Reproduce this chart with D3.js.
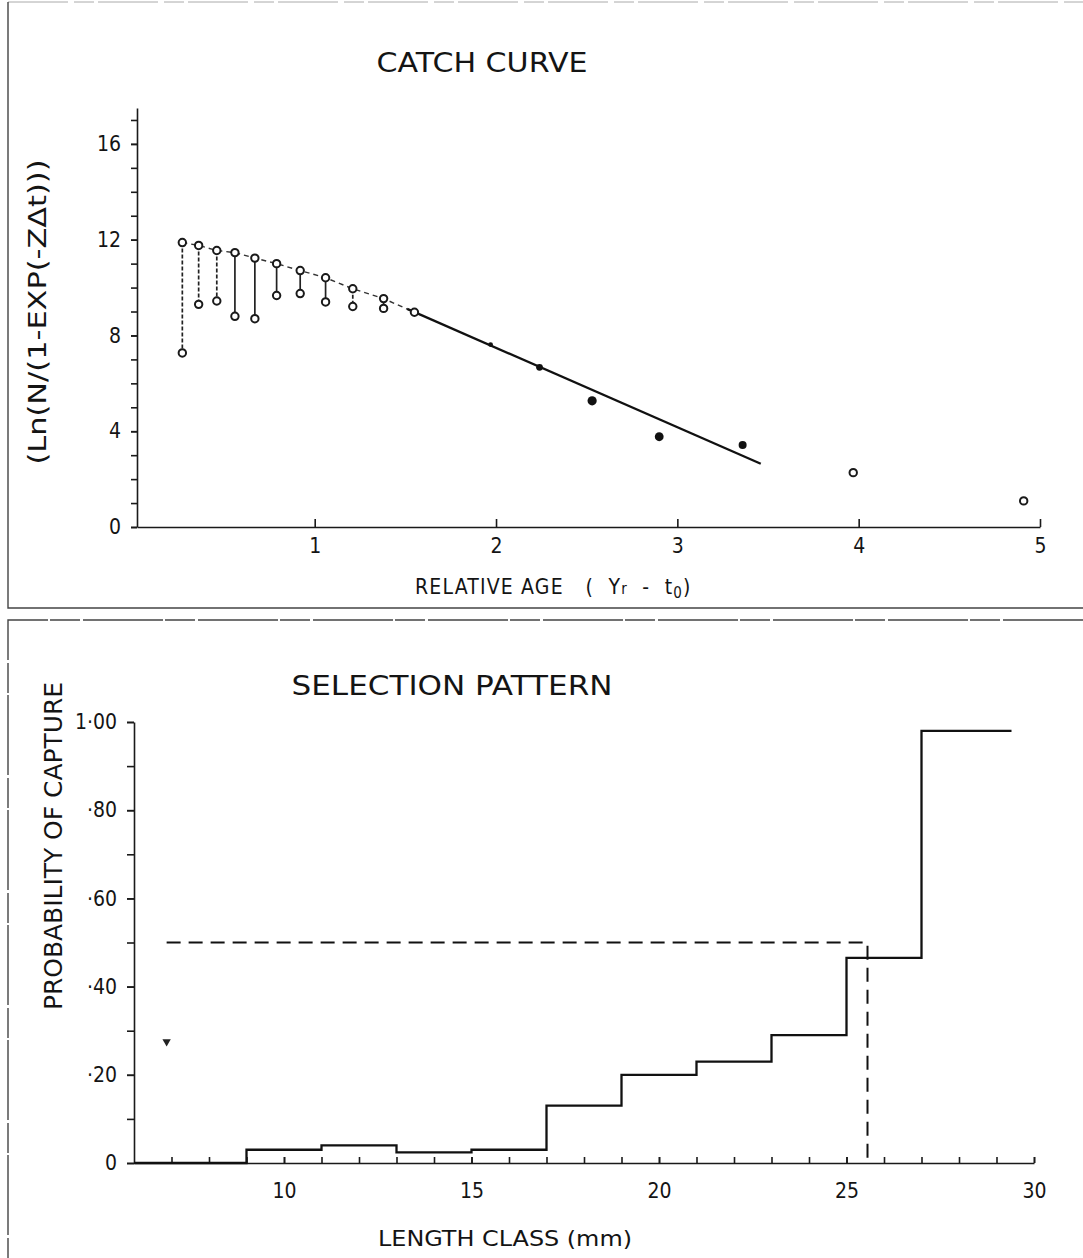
<!DOCTYPE html>
<html>
<head>
<meta charset="utf-8">
<script src="https://cdn.jsdelivr.net/npm/d3@7"></script>
<style>
    body { margin: 0; background: #fff; }
    svg text { fill: #141414; font-family: "DejaVu Sans Condensed", "DejaVu Sans", sans-serif; }
    .axis path, .axis line { stroke: #1a1a1a; stroke-width: 1.6; }
    .axis text { font-size: 21px; }
</style>
</head>
<body>
<svg id="chart" width="1083" height="1258"></svg>
<script>
// catch curve: upper points (on the dashed part) and the lower points hanging under them
let ageUpper = [0.27, 0.36, 0.46, 0.56, 0.67, 0.79, 0.92, 1.06, 1.21, 1.38, 1.55]
let lnUpper = [11.88, 11.76, 11.55, 11.46, 11.23, 11.0, 10.71, 10.41, 9.95, 9.54, 8.97]
let lnLower = [7.27, 9.30, 9.44, 8.80, 8.70, 9.67, 9.75, 9.40, 9.21, 9.13]

let ageFilled = [1.97, 2.24, 2.53, 2.90, 3.36]
let lnFilled = [7.62, 6.67, 5.27, 3.77, 3.43]

let ageOpen = [3.97, 4.91]
let lnOpen = [2.27, 1.09]

let ageFit = [1.51, 3.46]
let lnFit = [9.11, 2.64]

let ageTicks = [1, 2, 3, 4, 5]
let lnTicks = [0, 4, 8, 12, 16]

// selection pattern: class edges and probability of capture per class
let lengthEdges = [6, 9, 11, 13, 15, 17, 19, 21, 23, 25, 27, 29.4]
let capture = [0, 0.03, 0.04, 0.024, 0.03, 0.13, 0.20, 0.23, 0.29, 0.465, 0.98]
let lengthTicks = [10, 15, 20, 25, 30]
let probTicks = [0, 0.2, 0.4, 0.6, 0.8, 1.0]
let l50 = 25.56
let halfProb = 0.5
let l50Start = 6.87
let strayMark = [6.87, 0.275]

let svg = d3.select("#chart")

// panel frames
let frame = svg.append("g").attr("stroke", "#444").attr("fill", "none")
frame.append("path").attr("d", "M8,2 H1083").attr("stroke", "#aaa").attr("stroke-dasharray", "60,6,20,4")
frame.append("path").attr("d", "M8,2 V608 H1083").attr("stroke-width", 1.4)
frame.append("path").attr("d", "M1083,620 H8 V1258").attr("stroke-width", 1.4).attr("stroke-dasharray", "80,3,30,2")

// ---------------- CATCH CURVE ----------------
let catchG = svg.append("g")

let x1 = d3.scaleLinear([0.02, 5], [137, 1040])
let y1 = d3.scaleLinear([0, 17.5], [527, 108])

catchG.append("text")
    .attr("x", 482).attr("y", 72)
    .attr("text-anchor", "middle")
    .attr("font-size", 27)
    .style("font-family", "'DejaVu Sans', sans-serif")
    .attr("textLength", 211).attr("lengthAdjust", "spacingAndGlyphs")
    .text("CATCH CURVE")

catchG.append("g")
    .attr("class", "axis")
    .attr("transform", `translate(0,${y1(0)})`)
    .call(d3.axisBottom(x1).tickValues(ageTicks).tickSizeInner(-8).tickSizeOuter(0).tickPadding(11).tickFormat(d3.format("d")))

catchG.append("g")
    .attr("class", "axis")
    .attr("transform", `translate(${x1(0.02)},0)`)
    .call(d3.axisLeft(y1).tickValues(d3.range(0, 18)).tickSizeInner(6).tickSizeOuter(0).tickFormat(""))

catchG.append("g")
    .attr("class", "axis")
    .attr("transform", `translate(${x1(0.02)},0)`)
    .call(d3.axisLeft(y1).tickValues(lnTicks).tickSizeInner(6).tickSizeOuter(0).tickPadding(10).tickFormat(d3.format("d")))
    .call(g => g.select(".domain").remove())

catchG.append("text")
    .attr("transform", "translate(46,312) rotate(-90)")
    .attr("text-anchor", "middle")
    .attr("font-size", 25)
    .attr("textLength", 305).attr("lengthAdjust", "spacingAndGlyphs")
    .text("(Ln(N/(1-EXP(-ZΔt)))")

let ageLabel = catchG.append("text")
    .attr("x", 415).attr("y", 594)
    .attr("font-size", 21)
    .attr("letter-spacing", 1.2)
    .attr("xml:space", "preserve")
ageLabel.append("tspan").text("RELATIVE AGE   (  Y")
ageLabel.append("tspan").attr("font-size", 15).text("r")
ageLabel.append("tspan").text("  -  t")
ageLabel.append("tspan").attr("font-size", 15).attr("dy", 4).text("0")
ageLabel.append("tspan").attr("dy", -4).text(")")

// vertical links from upper to lower points
let dashedLinks = [0, 1, 2, 8]
catchG.selectAll(".link")
    .data(lnLower)
    .enter()
    .append("line")
    .attr("x1", (d, i) => x1(ageUpper[i]))
    .attr("x2", (d, i) => x1(ageUpper[i]))
    .attr("y1", (d, i) => y1(lnUpper[i]))
    .attr("y2", d => y1(d))
    .attr("stroke", "#222")
    .attr("stroke-width", 1.7)
    .attr("stroke-dasharray", (d, i) => dashedLinks.includes(i) ? "4,2" : null)

let line1 = d3.line().x(d => x1(d[0])).y(d => y1(d[1]))

catchG.append("path")
    .attr("d", line1(d3.zip(ageUpper, lnUpper)))
    .attr("fill", "none")
    .attr("stroke", "#333")
    .attr("stroke-width", 1.4)
    .attr("stroke-dasharray", "5,4")

catchG.append("path")
    .attr("d", line1(d3.zip(ageFit, lnFit)))
    .attr("fill", "none")
    .attr("stroke", "#111")
    .attr("stroke-width", 2.3)

let openPts = d3.zip(ageUpper, lnUpper)
    .concat(d3.zip(ageUpper.slice(0, lnLower.length), lnLower))
    .concat(d3.zip(ageOpen, lnOpen))

catchG.selectAll(".open")
    .data(openPts)
    .enter()
    .append("circle")
    .attr("cx", d => x1(d[0]))
    .attr("cy", d => y1(d[1]))
    .attr("r", 3.7)
    .attr("fill", "#fff")
    .attr("stroke", "#1a1a1a")
    .attr("stroke-width", 2)

let filledR = [2.4, 3.4, 4.6, 4.4, 4]
catchG.selectAll(".filled")
    .data(d3.zip(ageFilled, lnFilled))
    .enter()
    .append("circle")
    .attr("cx", d => x1(d[0]))
    .attr("cy", d => y1(d[1]))
    .attr("r", (d, i) => filledR[i])
    .attr("fill", "#111")

// ---------------- SELECTION PATTERN ----------------
let selG = svg.append("g")

let x2 = d3.scaleLinear([6, 30], [134, 1034])
let y2 = d3.scaleLinear([0, 1], [1163, 722])

selG.append("text")
    .attr("x", 452).attr("y", 695)
    .attr("text-anchor", "middle")
    .attr("font-size", 27)
    .style("font-family", "'DejaVu Sans', sans-serif")
    .attr("textLength", 321).attr("lengthAdjust", "spacingAndGlyphs")
    .text("SELECTION PATTERN")

selG.append("g")
    .attr("class", "axis")
    .attr("transform", `translate(0,${y2(0)})`)
    .call(d3.axisBottom(x2).tickValues(d3.range(7, 31)).tickSizeInner(-6).tickSizeOuter(0).tickFormat(""))

selG.append("g")
    .attr("class", "axis")
    .attr("transform", `translate(0,${y2(0)})`)
    .call(d3.axisBottom(x2).tickValues(lengthTicks).tickSizeInner(-6).tickSizeOuter(0).tickPadding(20).tickFormat(d3.format("d")))
    .call(g => g.select(".domain").remove())

let probFormat = d => d === 0 ? "0" : d === 1 ? "1·00" : "·" + d3.format(".2f")(d).slice(2)

selG.append("g")
    .attr("class", "axis")
    .attr("transform", `translate(${x2(6)},0)`)
    .call(d3.axisLeft(y2).tickValues(d3.range(0, 11).map(d => d / 10)).tickSizeInner(7).tickSizeOuter(0).tickFormat(""))

selG.append("g")
    .attr("class", "axis")
    .attr("transform", `translate(${x2(6)},0)`)
    .call(d3.axisLeft(y2).tickValues(probTicks).tickSizeInner(7).tickSizeOuter(0).tickPadding(10).tickFormat(probFormat))
    .call(g => g.select(".domain").remove())

selG.append("text")
    .attr("transform", "translate(62,846) rotate(-90)")
    .attr("text-anchor", "middle")
    .attr("font-size", 25)
    .attr("textLength", 328).attr("lengthAdjust", "spacingAndGlyphs")
    .text("PROBABILITY OF CAPTURE")

selG.append("text")
    .attr("x", 505).attr("y", 1246)
    .attr("text-anchor", "middle")
    .attr("font-size", 21)
    .attr("textLength", 254).attr("lengthAdjust", "spacingAndGlyphs")
    .text("LENGTH CLASS (mm)")

let stepPts = d3.zip(lengthEdges, capture.concat([capture[capture.length - 1]]))

selG.append("path")
    .attr("d", d3.line().curve(d3.curveStepAfter).x(d => x2(d[0])).y(d => y2(d[1]))(stepPts))
    .attr("fill", "none")
    .attr("stroke", "#111")
    .attr("stroke-width", 2.3)

selG.append("path")
    .attr("d", d3.line().x(d => x2(d[0])).y(d => y2(d[1]))([[l50Start, halfProb], [l50, halfProb], [l50, 0]]))
    .attr("fill", "none")
    .attr("stroke", "#111")
    .attr("stroke-width", 2)
    .attr("stroke-dasharray", "14,8")

selG.append("path")
    .attr("d", d3.symbol(d3.symbolTriangle, 30)())
    .attr("transform", `translate(${x2(strayMark[0])},${y2(strayMark[1])}) rotate(180)`)
    .attr("fill", "#222")
</script>
</body>
</html>
